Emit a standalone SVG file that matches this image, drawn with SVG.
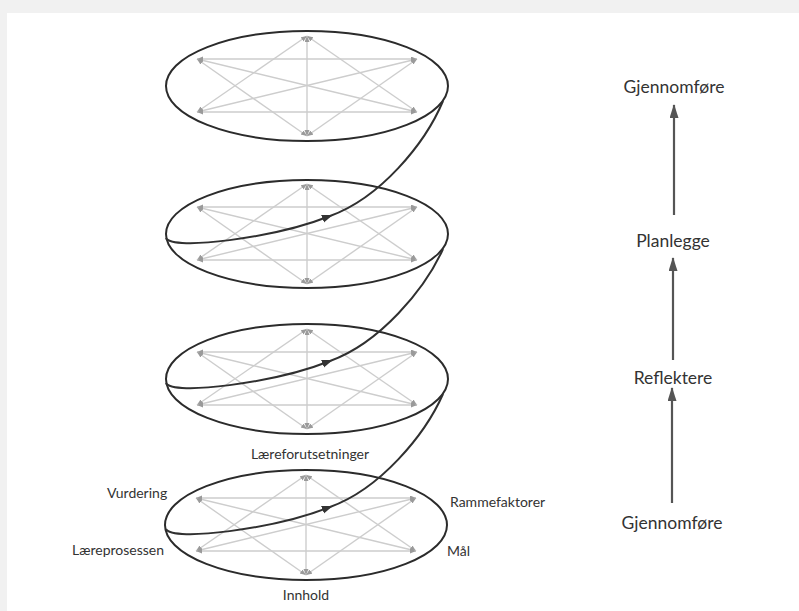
<svg xmlns="http://www.w3.org/2000/svg" xmlns:xlink="http://www.w3.org/1999/xlink" width="799" height="611" viewBox="0 0 799 611">
<style>
.ring{fill:none;stroke:#2b2b2b;stroke-width:2}
.edge{fill:none;stroke:#cdcdcd;stroke-width:1.4;marker-start:url(#small);marker-end:url(#small)}
.spiral{fill:none;stroke:#303030;stroke-width:2;marker-mid:url(#big)}
.up{fill:none;stroke:#555;stroke-width:2.2;marker-end:url(#upArrow)}
.lbl{font-family:Lato,"Open Sans","Liberation Sans",sans-serif;font-size:14px;fill:#333}
.rlbl{font-family:Lato,"Open Sans","Liberation Sans",sans-serif;font-size:17.5px;fill:#333;text-anchor:middle}
</style>
<defs>
<marker id="small" markerUnits="userSpaceOnUse" markerWidth="7" markerHeight="6" refX="6" refY="2.5" orient="auto-start-reverse">
<path d="M0,0 L6,2.5 L0,5 z" fill="#9a9a9a"/>
</marker>
<marker id="big" markerUnits="userSpaceOnUse" markerWidth="14" markerHeight="10" refX="8" refY="4" orient="auto">
<path d="M0,0 L11,4 L0,8 z" fill="#333"/>
</marker>
<marker id="upArrow" markerUnits="userSpaceOnUse" markerWidth="16" markerHeight="12" refX="13" refY="4.5" orient="auto">
<path d="M0,0 L14,4.5 L0,9 z" fill="#555"/>
</marker>
<g id="star">
<line class="edge" x1="0" y1="-50" x2="-110" y2="26"/>
<line class="edge" x1="0" y1="-50" x2="110" y2="26"/>
<line class="edge" x1="0" y1="-50" x2="0" y2="50"/>
<line class="edge" x1="-110" y1="-27" x2="110" y2="-27"/>
<line class="edge" x1="-110" y1="-27" x2="110" y2="26"/>
<line class="edge" x1="-110" y1="-27" x2="0" y2="50"/>
<line class="edge" x1="110" y1="-27" x2="-110" y2="26"/>
<line class="edge" x1="110" y1="-27" x2="0" y2="50"/>
<line class="edge" x1="-110" y1="26" x2="110" y2="26"/>
</g>
</defs>
<rect x="0" y="0" width="799" height="611" fill="#f1f1f1"/>
<rect x="7" y="13" width="792" height="598" fill="#ffffff"/>

<g id="level-4">
<use xlink:href="#star" transform="translate(307,86)"/>
<ellipse class="ring" cx="307" cy="86" rx="141" ry="55"/>
</g>
<g id="level-3">
<use xlink:href="#star" transform="translate(307,234)"/>
<ellipse class="ring" cx="307" cy="234" rx="141" ry="54"/>
</g>
<g id="level-2">
<use xlink:href="#star" transform="translate(307,379)"/>
<ellipse class="ring" cx="307" cy="379" rx="141" ry="55"/>
</g>
<g id="level-1">
<use xlink:href="#star" transform="translate(306,525)"/>
<ellipse class="ring" cx="306" cy="525" rx="141" ry="55"/>
</g>

<g id="labels">
<text class="lbl" x="310" y="459" text-anchor="middle">Læreforutsetninger</text>
<text class="lbl" x="107" y="498">Vurdering</text>
<text class="lbl" x="450" y="507">Rammefaktorer</text>
<text class="lbl" x="72" y="555">Læreprosessen</text>
<text class="lbl" x="447" y="556">Mål</text>
<text class="lbl" x="306" y="600" text-anchor="middle">Innhold</text>
</g>

<g id="phase-labels">
<text id="gjennomfore-top" class="rlbl" x="674" y="93">Gjennomføre</text>
<text id="planlegge" class="rlbl" x="673" y="247">Planlegge</text>
<text id="reflektere" class="rlbl" x="673" y="384">Reflektere</text>
<text id="gjennomfore-bottom" class="rlbl" x="672" y="529">Gjennomføre</text>
</g>

<g id="connectors">
<path class="spiral" d="M166,529 C172,542 275,529 330,507 C380,489 425,435 443,394"/>
<path class="spiral" d="M166,383 C172,396 275,383 330,361 C380,343 425,289 443,249"/>
<path class="spiral" d="M166,238 C172,251 275,238 330,216 C380,198 425,144 443,101"/>
<line class="up" x1="674" y1="215" x2="674" y2="105"/>
<line class="up" x1="673" y1="360" x2="673" y2="258"/>
<line class="up" x1="672" y1="503" x2="672" y2="388"/>
</g>
</svg>
